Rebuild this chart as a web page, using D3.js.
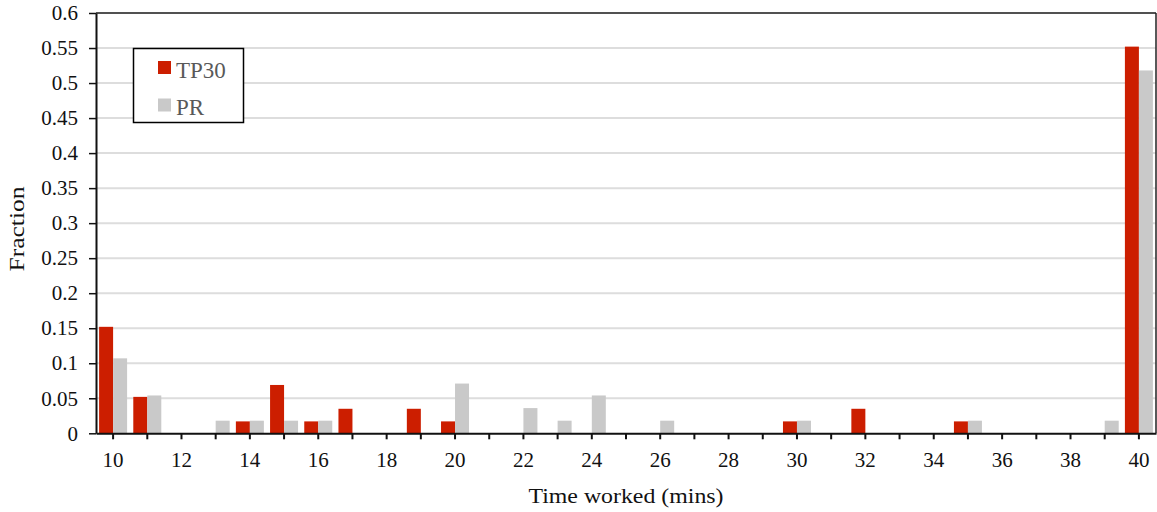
<!DOCTYPE html>
<html><head><meta charset="utf-8">
<script src="https://cdn.jsdelivr.net/npm/d3@7"></script>
<style>body{margin:0;background:#fff}svg{display:block}</style>
</head><body>
<svg id="c" width="1157" height="512"></svg>
<script>
const categories = d3.range(10, 41);
const tp30 = [0.152,0.052,0,0,0.017,0.069,0.017,0.035,0,0.035,0.017,0,0,0,0,0,0,0,0,0,0.017,0,0.035,0,0,0.017,0,0,0,0,0.552];
const pr   = [0.107,0.054,0,0.018,0.018,0.018,0.018,0,0,0,0.071,0,0.036,0.018,0.054,0,0.018,0,0,0,0.018,0,0,0,0,0.018,0,0,0,0.018,0.518];
const yTicks = [0,0.05,0.1,0.15,0.2,0.25,0.3,0.35,0.4,0.45,0.5,0.55,0.6];
const seriesNames = ["TP30","PR"];
const colors = ["#CC1E00","#C9C9C9"];

const svg = d3.select("#c");
const L=96,R=1156,T=13,B=433.3;
const x = d3.scaleBand().domain(categories).range([L,R]);
const y = d3.scaleLinear().domain([0,0.6]).range([B,T]);
const bw = 14;
const font = "'Liberation Serif','Times New Roman',serif";

// grid
svg.append("g").selectAll("line").data(yTicks.filter(d=>d>0)).join("line")
  .attr("x1",L).attr("x2",R).attr("y1",d=>y(d)).attr("y2",d=>y(d))
  .attr("stroke","#DDDDDD").attr("stroke-width",2);

// bars
[tp30,pr].forEach((vals,si)=>{
  svg.append("g").selectAll("rect").data(vals.map((v,i)=>({c:categories[i],v}))).join("rect")
    .attr("x",d=>x(d.c)+x.bandwidth()/2 + (si===0?-bw:0))
    .attr("width",bw)
    .attr("y",d=>y(d.v)).attr("height",d=>B-y(d.v))
    .attr("fill",colors[si]);
});

// frame top/right
svg.append("line").attr("x1",L).attr("x2",R).attr("y1",T).attr("y2",T).attr("stroke","#222").attr("stroke-width",1.5);
svg.append("line").attr("x1",R).attr("x2",R).attr("y1",T).attr("y2",B).attr("stroke","#222").attr("stroke-width",1.5);

// y axis
const ya = svg.append("g").attr("transform",`translate(${L},0)`)
  .call(d3.axisLeft(y).tickValues(yTicks).tickFormat(d=>d3.format("")(+d.toFixed(2))).tickSize(7).tickSizeOuter(0).tickPadding(11));
ya.select(".domain").attr("stroke","#111").attr("stroke-width",2);
ya.selectAll(".tick line").attr("stroke","#111").attr("stroke-width",1.5);
ya.selectAll("text").attr("font-family",font).attr("font-size",21).attr("fill","#111");

// x axis
const xa = svg.append("g").attr("transform",`translate(0,${B})`)
  .call(d3.axisBottom(x).tickFormat(d=>d%2===0?d:"").tickSize(6).tickSizeOuter(0));
xa.select(".domain").attr("stroke","#111").attr("stroke-width",2);
xa.selectAll(".tick line").attr("stroke","#111").attr("stroke-width",2);
xa.selectAll("text").attr("font-family",font).attr("font-size",21).attr("fill","#111")
  .attr("dy",null).attr("y",33.4);

// titles
svg.append("text").attr("x",626).attr("y",502.5).attr("text-anchor","middle")
  .attr("font-family",font).attr("font-size",22).attr("fill","#111")
  .attr("textLength",195).attr("lengthAdjust","spacingAndGlyphs").text("Time worked (mins)");
svg.append("text").attr("transform","translate(24,229) rotate(-90)").attr("text-anchor","middle")
  .attr("font-family",font).attr("font-size",21).attr("fill","#111")
  .attr("textLength",85).attr("lengthAdjust","spacingAndGlyphs").text("Fraction");

// legend
const lg = svg.append("g");
lg.append("rect").attr("x",133.5).attr("y",48.5).attr("width",110).attr("height",74)
  .attr("fill","#fff").attr("stroke","#000").attr("stroke-width",1.5);
seriesNames.forEach((n,i)=>{
  lg.append("rect").attr("x",158).attr("y",61+i*37.5).attr("width",13).attr("height",13).attr("fill",colors[i]);
  lg.append("text").attr("x",176).attr("y",78.3+i*37).attr("font-family",font).attr("font-size",23)
    .attr("fill","#595959").text(n);
});
</script>
</body></html>
